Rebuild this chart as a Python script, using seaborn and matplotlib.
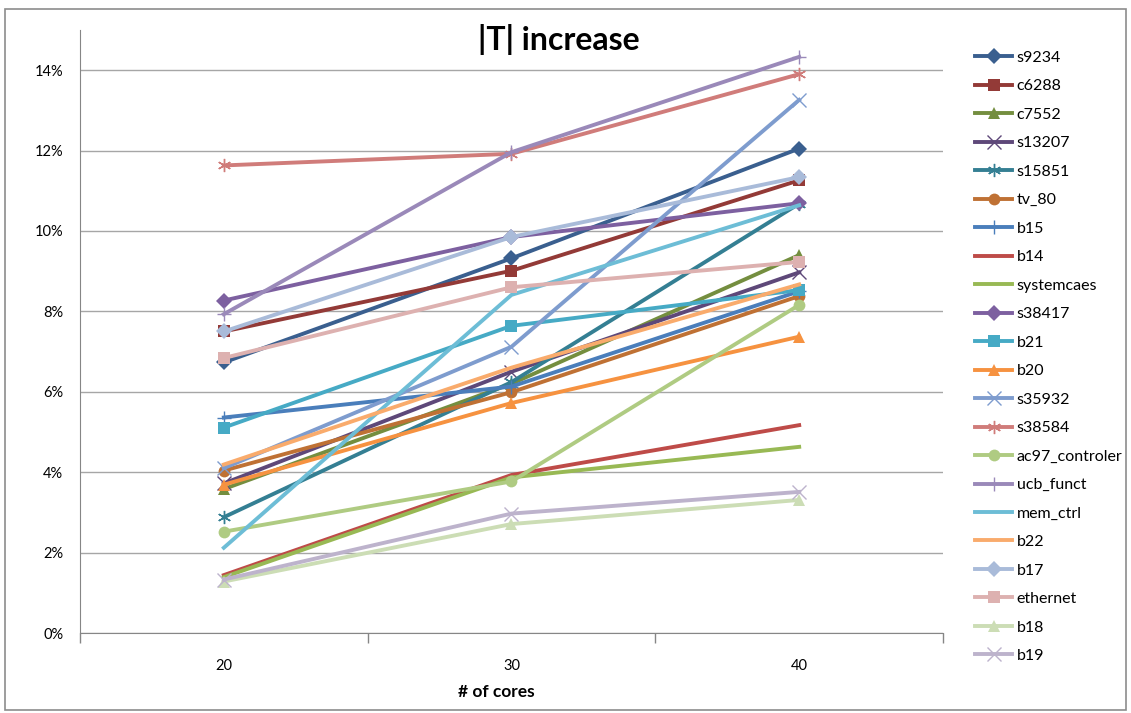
import matplotlib
matplotlib.use("Agg")
import matplotlib.pyplot as plt
from matplotlib.ticker import PercentFormatter, FixedLocator, NullFormatter
from matplotlib.patches import Rectangle
import seaborn as sns
import pandas as pd

cores = ["20", "30", "40"]

series_names = [
    "s9234", "c6288", "c7552", "s13207", "s15851", "tv_80", "b15", "b14",
    "systemcaes", "s38417", "b21", "b20", "s35932", "s38584", "ac97_controler",
    "ucb_funct", "mem_ctrl", "b22", "b17", "ethernet", "b18", "b19",
]

s9234 = [0.0673, 0.0932, 0.1205]
c6288 = [0.0750, 0.0901, 0.1126]
c7552 = [0.0358, 0.0620, 0.0940]
s13207 = [0.0372, 0.0650, 0.0897]
s15851 = [0.0288, 0.0624, 0.1068]
tv_80 = [0.0404, 0.0599, 0.0838]
b15 = [0.0536, 0.0613, 0.0850]
b14 = [0.0144, 0.0393, 0.0517]
systemcaes = [0.0139, 0.0387, 0.0463]
s38417 = [0.0827, 0.0985, 0.1069]
b21 = [0.0511, 0.0764, 0.0853]
b20 = [0.0369, 0.0572, 0.0737]
s35932 = [0.0410, 0.0712, 0.1326]
s38584 = [0.1163, 0.1192, 0.1390]
ac97_controler = [0.0252, 0.0377, 0.0816]
ucb_funct = [0.0793, 0.1196, 0.1433]
mem_ctrl = [0.0212, 0.0841, 0.1064]
b22 = [0.0419, 0.0660, 0.0867]
b17 = [0.0750, 0.0985, 0.1134]
ethernet = [0.0684, 0.0860, 0.0923]
b18 = [0.0128, 0.0271, 0.0331]
b19 = [0.0133, 0.0297, 0.0351]

values = [
    s9234, c6288, c7552, s13207, s15851, tv_80, b15, b14, systemcaes, s38417,
    b21, b20, s35932, s38584, ac97_controler, ucb_funct, mem_ctrl, b22, b17,
    ethernet, b18, b19,
]

colors = [
    "#3A5F8F", "#933A37", "#748E3F", "#5E4879", "#347F93", "#BF7134",
    "#4A7EBB", "#BE4B48", "#98B954", "#7D60A0", "#46AAC5", "#F69240",
    "#7E9CCE", "#D07C7A", "#AFCB82", "#9A89B9", "#6DBDD6", "#F9AB6C",
    "#A9BBD9", "#DDB1B0", "#CCDDB5", "#BDB3CC",
]

markers = [
    "D", "s", "^", "x", (6, 2, 0), "o", "+", None, None, "D", "s", "^",
    "x", (6, 2, 0), "o", "+", None, None, "D", "s", "^", "x",
]

font = "Lato"
plt.rcParams["font.family"] = [font, "DejaVu Sans"]

rows = []
for name, vals in zip(series_names, values):
    for i, v in enumerate(vals):
        rows.append({"series": name, "pos": i, "value": v})
df = pd.DataFrame(rows)

fig = plt.figure(figsize=(11.31, 7.13), dpi=100)
ax = fig.add_axes([0.0707, 0.1122, 0.7631, 0.8458])

handles = []
for name, color, mk in zip(series_names, colors, markers):
    sub = df[df["series"] == name]
    thin_marker = mk in ("x", "+", (6, 2, 0))
    sns.lineplot(
        data=sub, x="pos", y="value", ax=ax, color=color, linewidth=2.8,
        marker=mk, markersize=9.5 if thin_marker else 8.5,
        markeredgewidth=1.0 if thin_marker else 0,
        markeredgecolor=color, label=name, sort=False,
    )
    handles.append(ax.lines[-1])

ax.set_xlim(-0.5, len(cores) - 0.5)
ax.set_ylim(0, 0.15)

ax.yaxis.set_major_locator(FixedLocator([0, 0.02, 0.04, 0.06, 0.08, 0.10, 0.12, 0.14]))
ax.yaxis.set_major_formatter(PercentFormatter(1.0, decimals=0))
ax.grid(axis="y", color="#A6A6A6", linewidth=1.0)
ax.grid(axis="x", visible=False)
ax.set_axisbelow(True)

ax.set_xticks(range(len(cores)))
ax.set_xticklabels(cores)
ax.set_xticks([i - 0.5 for i in range(len(cores) + 1)], minor=True)
ax.xaxis.set_minor_formatter(NullFormatter())
ax.tick_params(axis="x", which="major", length=0, pad=19, labelsize=10.5)
ax.tick_params(axis="x", which="minor", length=7, width=1, color="#868686", direction="out")
ax.tick_params(axis="y", length=0, pad=12, labelsize=10.5)

for side in ("top", "right"):
    ax.spines[side].set_visible(False)
ax.spines["left"].set_color("#868686")
ax.spines["bottom"].set_color("#868686")

ax.set_xlabel("")
ax.set_ylabel("")
fig.text(0.4385, 0.029, "# of cores", ha="center", va="center",
         fontsize=12.5, fontweight="bold")
fig.text(0.494, 0.945, "|T| increase", ha="center", va="center",
         fontsize=23, fontweight="bold")

ax.legend(
    handles=handles, labels=series_names, loc="upper left",
    bbox_to_anchor=(1.03, 0.976), frameon=False, fontsize=11.5,
    labelspacing=0.895, handlelength=2.3, handletextpad=0.3, borderaxespad=0,
)

fig.patches.append(Rectangle((0.004, 0.004), 0.992, 0.984, transform=fig.transFigure,
                             fill=False, edgecolor="#8C8C8C", linewidth=1.2))

fig.savefig("out.png", dpi=100)
